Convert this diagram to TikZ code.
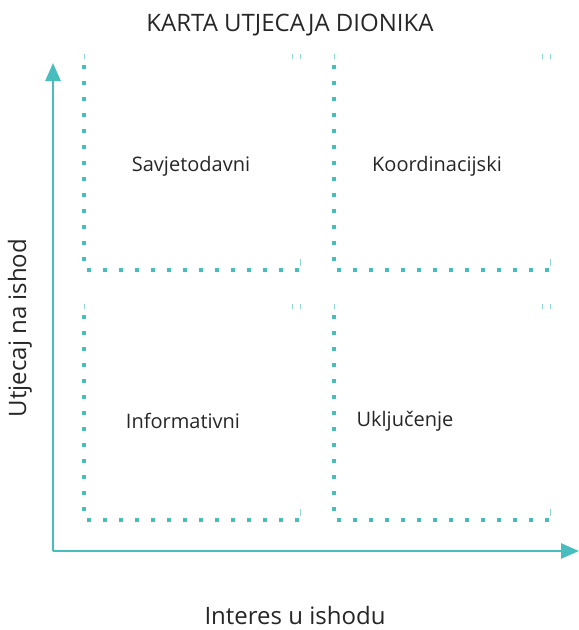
\documentclass[tikz,border=0pt]{standalone}
\usepackage{fontspec}
\setmainfont{Open Sans}
\definecolor{mapteal}{RGB}{72,189,189}
\usetikzlibrary{arrows.meta}

\begin{document}
\begin{tikzpicture}[x=1pt, y=-1pt,
    axis/.style={mapteal, line width=2.6pt, -{Triangle[length=18pt, width=15pt]}},
    edge/.style={mapteal, line width=4pt, dash pattern=on 4pt off 12pt},
    tick/.style={mapteal!60, line width=1pt},
    label/.style={font=\fontsize{20}{24}\selectfont, text=black!85}]
    \useasboundingbox (0,0) rectangle (579,630);
    % axes
    \coordinate (origin) at (53,551);
    \coordinate (ytop) at (53,63);
    \coordinate (xend) at (579,551);
    \draw[axis] (origin) -- (ytop);
    \draw[axis] (origin) -- (xend);
    % quadrants: left and bottom dotted sides only
    \foreach \qx/\qy in {84/54, 334/54, 84/304, 334/304} {
        \draw[edge] (\qx,\qy+11) -- (\qx,\qy+216) -- (\qx+216,\qy+216);
        \draw[tick] (\qx,\qy) -- (\qx,\qy+5);
        \draw[tick] (\qx+208,\qy) -- (\qx+208,\qy+5);
        \draw[tick] (\qx+216,\qy) -- (\qx+216,\qy+5);
        \draw[tick] (\qx+216,\qy+205) -- (\qx+216,\qy+212);
    }
    % texts
    \node[label, font=\fontsize{24}{28}\selectfont] (title) at (290,25) {KARTA UTJECAJA DIONIKA};
    \node[label] (savj) at (191,166) {Savjetodavni};
    \node[label] (koord) at (437,166) {Koordinacijski};
    \node[label] (info) at (183,421) {Informativni};
    \node[label] (uklj) at (405,421) {Uključenje};
    \node[label, font=\fontsize{24}{28}\selectfont, rotate=90] (ylab) at (20,328) {Utjecaj na ishod};
    \node[label, font=\fontsize{24}{28}\selectfont] (xlab) at (295,615) {Interes u ishodu};
\end{tikzpicture}
\end{document}
